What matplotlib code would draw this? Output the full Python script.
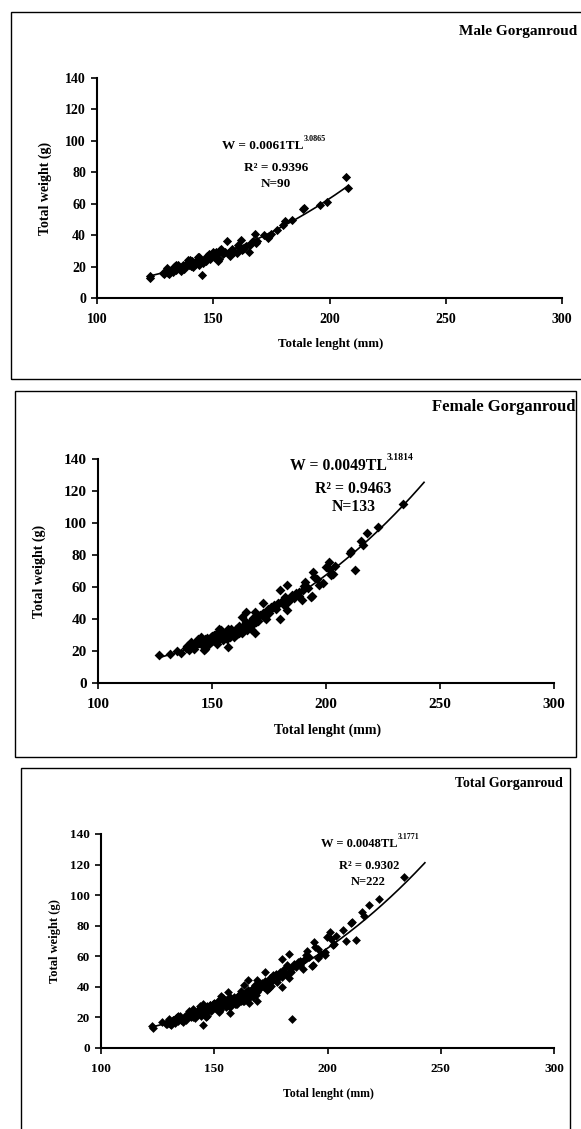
import numpy as np
import matplotlib
matplotlib.use('Agg')
import matplotlib.pyplot as plt
from matplotlib.patches import Rectangle

# male fish, total length (mm) and total weight (g)
male_tl = [122.6, 123.0, 128.5, 129.5, 130.0, 130.5, 131.0, 131.5, 132.0, 132.5,
           133.0, 133.5, 134.0, 134.5, 135.0, 135.5, 136.0, 136.5, 137.0, 137.5,
           138.0, 138.5, 139.0, 139.5, 140.0, 140.5, 141.0, 141.5, 142.0, 142.5,
           143.0, 143.5, 144.0, 144.5, 145.0, 145.5, 146.0, 147.0, 147.5, 148.0,
           148.5, 149.0, 150.0, 150.5, 151.0, 152.0, 152.5, 153.0, 153.5, 154.0,
           155.0, 156.0, 156.5, 157.0, 157.5, 158.0, 159.0, 160.0, 160.5, 161.0,
           162.0, 162.5, 163.0, 165.5, 166.0, 166.5, 167.0, 168.0, 168.5, 169.0,
           172.0, 173.5, 174.0, 175.0, 177.5, 180.0, 181.0, 184.0, 188.5, 189.0,
           196.0, 199.0, 207.0, 208.0, 129.0, 134.0, 140.0, 144.0, 151.0, 164.0]
male_w = [14.2, 12.8, 15.8, 17.5, 18.8, 16.0, 15.0, 17.2, 18.0, 16.5,
          19.5, 20.5, 17.8, 19.0, 20.8, 18.2, 17.0, 19.8, 21.0, 18.5,
          20.0, 22.5, 24.0, 21.2, 22.0, 20.5, 23.5, 19.5, 21.5, 22.8,
          24.5, 25.8, 21.0, 23.0, 14.8, 22.0, 24.0, 23.5, 26.5, 28.0,
          25.0, 27.0, 29.0, 26.0, 27.5, 23.5, 25.0, 30.5, 31.5, 28.0,
          29.5, 36.5, 28.5, 27.0, 30.0, 31.0, 29.0, 28.5, 34.0, 32.5,
          37.0, 30.5, 31.5, 29.3, 34.0, 35.5, 36.0, 41.0, 35.0, 36.5,
          40.0, 38.0, 39.5, 40.5, 43.0, 46.5, 49.0, 49.5, 56.5, 57.0,
          59.0, 61.0, 77.0, 70.0, 15.5, 21.0, 24.5, 26.0, 29.5, 33.0]

# female fish
female_tl = [126.8, 131.7, 134.6, 136.5, 138.5, 139.0, 139.8, 140.6, 141.0, 142.2,
             142.8, 143.5, 143.8, 144.5, 145.0, 145.5, 146.0, 146.3, 146.8, 147.0,
             147.5, 148.0, 148.5, 149.0, 149.5, 150.0, 150.5, 151.0, 151.5, 151.9,
             152.0, 152.5, 153.0, 153.2, 153.5, 154.0, 154.5, 155.0, 155.5, 156.0,
             156.5, 157.1, 157.5, 158.0, 158.5, 159.0, 159.5, 160.0, 160.5, 161.0,
             161.5, 162.0, 162.5, 163.0, 163.3, 164.0, 164.5, 164.9, 165.0, 165.5,
             166.0, 166.5, 167.0, 167.5, 168.0, 169.0, 169.0, 169.5, 170.0, 171.0,
             172.2, 172.5, 173.0, 173.9, 174.5, 175.0, 176.0, 177.1, 178.0, 179.0,
             179.9, 179.9, 181.0, 181.5, 182.0, 182.8, 182.8, 183.5, 184.0, 185.0,
             186.0, 186.9, 188.0, 189.3, 190.0, 190.4, 190.9, 192.0, 193.3, 193.8,
             194.2, 194.6, 196.0, 197.0, 198.7, 199.8, 201.1, 201.5, 202.3, 203.0,
             203.9, 210.4, 211.0, 212.8, 215.3, 216.1, 218.2, 222.9, 233.9, 144.0,
             148.0, 150.0, 152.0, 155.0, 157.0, 160.0, 162.0, 165.0, 167.0, 170.0,
             175.0, 178.0, 188.0]
female_w = [17.3, 18.4, 19.8, 18.8, 22.0, 23.0, 20.5, 25.7, 24.0, 21.5,
            23.5, 26.0, 27.8, 25.0, 28.5, 26.5, 23.0, 20.5, 21.0, 27.5,
            25.5, 28.0, 24.5, 27.0, 29.0, 26.5, 28.5, 30.0, 27.0, 25.7,
            24.5, 31.0, 32.5, 34.0, 29.5, 33.0, 28.0, 31.5, 30.0, 32.0,
            27.5, 22.6, 31.0, 29.0, 33.5, 32.0, 28.5, 31.5, 34.0, 30.5,
            33.0, 35.5, 32.0, 31.0, 41.4, 36.5, 34.0, 44.5, 38.0, 33.0,
            37.0, 35.0, 39.0, 36.0, 40.5, 31.0, 44.5, 38.0, 41.0, 42.5,
            49.7, 44.0, 41.0, 39.7, 46.0, 43.5, 47.5, 48.7, 46.0, 50.0,
            58.0, 39.7, 52.0, 48.5, 54.0, 61.2, 45.5, 50.5, 52.5, 55.0,
            53.0, 56.0, 54.5, 51.8, 58.0, 60.6, 63.3, 59.5, 53.9, 54.5,
            69.6, 66.4, 65.0, 61.5, 62.7, 72.7, 75.8, 71.0, 67.5, 68.0,
            73.1, 81.5, 82.5, 70.6, 89.0, 86.3, 93.6, 97.4, 111.8, 27.0,
            26.0, 29.5, 28.0, 27.0, 33.5, 30.0, 31.0, 36.5, 33.5, 39.0,
            45.0, 48.0, 57.0]

# fish present only in the pooled data
extra_tl = [184.2]
extra_w = [19.0]

# length-weight relationships reported on each panel (TL in cm)
panels = ['Male Gorganroud', 'Female Gorganroud', 'Total Gorganroud']
coef_a = [0.0061, 0.0049, 0.0048]
coef_b = [3.0865, 3.1814, 3.1771]
r_squared = ['0.9396', '0.9463', '0.9302']
n_fish = [90, 133, 222]
x_labels = ['Totale lenght (mm)', 'Total lenght (mm)', 'Total lenght (mm)']
fit_end = [208.0, 243.0, 243.0]

W, H = 581, 1129
FONT = 'Liberation Serif'


def fig_rect(x0, y0, x1, y1):
    # pixel box (top-left origin) to figure fraction
    return [x0 / W, 1 - y1 / H, (x1 - x0) / W, (y1 - y0) / H]


def main():
    f = plt.figure(figsize=(W / 100, H / 100), dpi=100)

    total_tl = male_tl + female_tl + extra_tl
    total_w = male_w + female_w + extra_w
    data = [(male_tl, male_w), (female_tl, female_w), (total_tl, total_w)]

    # layout of each panel in pixels
    boxes = [(11, 12, 590, 379), (15, 391, 576, 757), (21, 768, 570, 1140)]
    axes_px = [(97, 78, 562, 298), (98, 459, 554, 683), (101, 834, 554, 1048)]
    title_pos = [(459, 32, 'left', 11), (576, 407, 'right', 12), (563, 783, 'right', 10)]
    tick_size = [10, 11, 9.5]
    ylabel_size = [10, 10, 9]
    xlabel_size = [9.3, 10, 8.5]
    eq_size = [9.5, 11.3, 9]
    eq_pos = [(189, 96.5, 177, 83, 72.5), (226.6, 135.4, 212, 121.4, 110.3),
              (230.8, 133.4, 218.2, 119.2, 108.5)]
    ylab_x = [-0.097, -0.114, -0.088]
    xlab_y = [-0.18, -0.18, -0.185]
    marker_size = [4.7, 5.0, 4.5]

    for i in range(3):
        # frame around the panel
        r = fig_rect(*boxes[i])
        f.patches.append(Rectangle(r[:2], r[2], r[3], transform=f.transFigure,
                                   fill=False, edgecolor='black', linewidth=1.0))
        tx, ty, ha, ts = title_pos[i]
        f.text(tx / W, 1 - ty / H, panels[i], ha=ha, va='center', fontsize=ts,
               fontweight='bold', family=FONT)

        ax = f.add_axes(fig_rect(*axes_px[i]))
        tl, w = data[i]
        ax.scatter(tl, w, marker='D', s=marker_size[i] ** 2, color='black', linewidths=0, zorder=3)

        # power trendline from the reported coefficients
        xs = np.linspace(min(tl), fit_end[i], 200)
        ax.plot(xs, coef_a[i] * (xs / 10) ** coef_b[i], color='black', linewidth=1.2, zorder=2)

        ax.set_xlim(100, 300)
        ax.set_ylim(0, 140)
        ax.set_xticks([100, 150, 200, 250, 300])
        ax.set_yticks(range(0, 141, 20))
        for side in ['top', 'right']:
            ax.spines[side].set_visible(False)
        for side in ['left', 'bottom']:
            ax.spines[side].set_linewidth(1.5)
        ax.tick_params(direction='out', length=4, width=1.2, labelsize=tick_size[i])
        ax.tick_params(axis='x', pad=7)
        ax.tick_params(axis='y', pad=4)
        for lab in ax.get_xticklabels() + ax.get_yticklabels():
            lab.set_fontweight('bold')
            lab.set_family(FONT)

        ax.set_ylabel('Total weight (g)', fontsize=ylabel_size[i], fontweight='bold', family=FONT)
        ax.yaxis.set_label_coords(ylab_x[i], 0.5)
        ax.set_xlabel(x_labels[i], fontsize=xlabel_size[i], fontweight='bold', family=FONT)
        ax.xaxis.set_label_coords(0.503, xlab_y[i])

        # equation, r squared and sample size
        ex, ey, rx, ry, ny = eq_pos[i]
        eq = ax.text(ex, ey, f'W = {coef_a[i]:.4f}TL', ha='right', va='center',
                     fontsize=eq_size[i], fontweight='bold', family=FONT)
        ax.annotate(f'{coef_b[i]:.4f}', xy=(1.0, 0.75), xycoords=eq, ha='left', va='bottom',
                    fontsize=eq_size[i] * 0.62, fontweight='bold', family=FONT)
        ax.text(rx, ry, f'R\u00b2 = {r_squared[i]}', ha='center', va='center',
                fontsize=eq_size[i], fontweight='bold', family=FONT)
        ax.text(rx, ny, f'N={n_fish[i]}', ha='center', va='center',
                fontsize=eq_size[i], fontweight='bold', family=FONT)

    f.savefig('out.png', dpi=100)


if __name__ == '__main__':
    main()
